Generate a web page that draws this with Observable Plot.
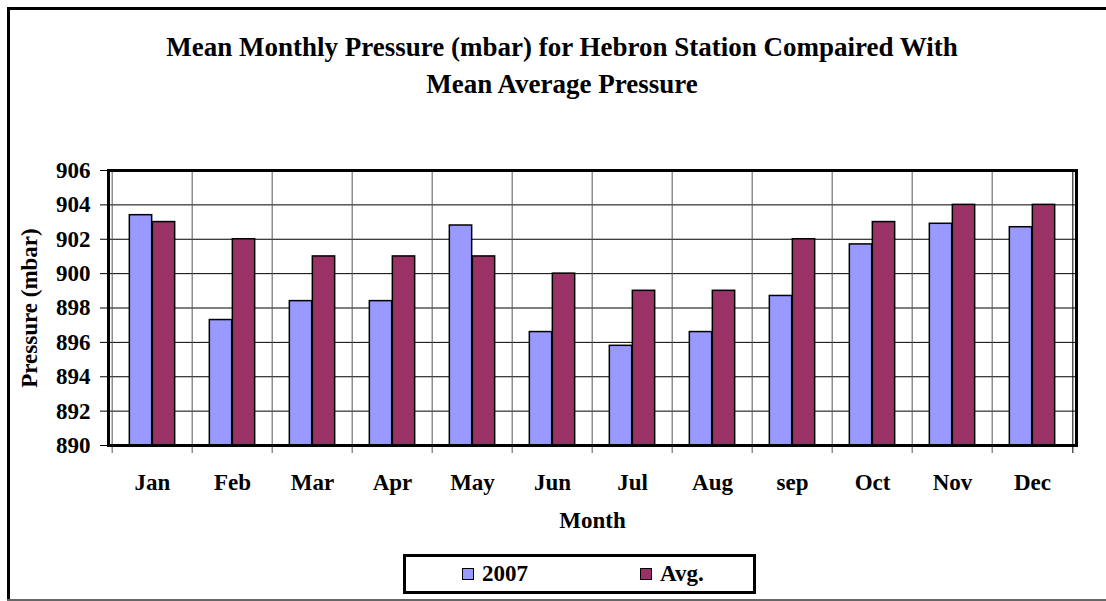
<!DOCTYPE html>
<html><head><meta charset="utf-8">
<script src="https://cdn.jsdelivr.net/npm/d3@7"></script>
<script src="https://cdn.jsdelivr.net/npm/@observablehq/plot@0.6"></script>
<style>
body{margin:0;background:#fff;width:1106px;height:601px;overflow:hidden;position:relative;color:#000;}
#chart{position:absolute;left:0;top:0;}
#overlay{position:absolute;left:0;top:0;}
</style>
</head><body>
<div id="chart"></div>
<svg id="overlay" width="1106" height="601"></svg>
<script>
const months = ["Jan","Feb","Mar","Apr","May","Jun","Jul","Aug","sep","Oct","Nov","Dec"];
const p2007 = [903.4,897.3,898.4,898.4,902.8,896.6,895.8,896.6,898.7,901.7,902.9,902.7];
const pAvg = [903,902,901,901,901,900,899,899,902,903,904,904];
const yTicks = [890,892,894,896,898,900,902,904,906];
const seriesNames = ["2007","Avg."];
const colors = ["#9999FF","#993366"];
const titleLines = ["Mean Monthly Pressure (mbar) for Hebron Station Compaired With", "Mean Average Pressure"];

const FONT = '"Liberation Serif","Times New Roman",Times,serif';
const W = 1106, H = 545, mL = 108, mR = 30, mT = 170, mB = 100;
const bw = (W - mL - mR) / months.length;
const barW = 23;
const outer = (bw - 2 * barW) / 2;

const d2007 = months.map((m, i) => ({month: m, value: p2007[i]}));
const dAvg = months.map((m, i) => ({month: m, value: pAvg[i]}));

const chart = Plot.plot({
  width: W, height: H,
  marginLeft: mL, marginRight: mR, marginTop: mT, marginBottom: mB,
  style: {fontFamily: FONT, fontWeight: "bold", fontSize: "23px", color: "#000", background: "transparent", overflow: "visible"},
  x: {type: "band", domain: months, padding: 0, label: "Month", labelAnchor: "center", labelOffset: 82, tickSize: 0, tickPadding: 28, labelArrow: "none"},
  y: {domain: [890, 906], ticks: yTicks, tickSize: 8, tickPadding: 10, label: "Pressure (mbar)", labelAnchor: "center", labelOffset: 88, labelArrow: "none"},
  marks: [
    Plot.ruleY(yTicks, {stroke: "#000", strokeWidth: 1}),
    Plot.ruleX(months, {x: d => d, dx: -bw / 2, stroke: "#555", strokeWidth: 1, insetBottom: -8}),
    Plot.ruleX([months[months.length - 1]], {x: d => d, dx: bw / 2, stroke: "#000", strokeWidth: 1, insetBottom: -8}),
    Plot.barY(d2007, {x: "month", y1: 890, y2: "value", fill: colors[0], stroke: "#000", strokeWidth: 1.5, insetLeft: outer, insetRight: outer + barW}),
    Plot.barY(dAvg, {x: "month", y1: 890, y2: "value", fill: colors[1], stroke: "#000", strokeWidth: 1.5, insetLeft: outer + barW, insetRight: outer}),
    Plot.frame({stroke: "#000", strokeWidth: 3})
  ]
});
document.getElementById("chart").appendChild(chart);

// chart-area border, title and legend
const ov = d3.select("#overlay")
  .style("font-family", FONT).style("font-weight", "bold");
ov.append("path").attr("d", "M8.5,620 V8.5 H1120").attr("fill", "none").attr("stroke", "#000").attr("stroke-width", 3);
ov.append("line").attr("x1", 7).attr("x2", 1106).attr("y1", 600).attr("y2", 600).attr("stroke", "#666").attr("stroke-width", 2);
ov.selectAll("text.title").data(titleLines).join("text").attr("class", "title")
  .attr("x", 562).attr("y", (d, i) => 56 + i * 37)
  .attr("text-anchor", "middle").attr("font-size", 27).text(d => d);

const lg = ov.append("g");
lg.append("rect").attr("x", 404.5).attr("y", 555.5).attr("width", 350).attr("height", 37)
  .attr("fill", "#fff").attr("stroke", "#000").attr("stroke-width", 3);
const swX = [462, 640], txX = [482, 660];
seriesNames.forEach((s, i) => {
  lg.append("rect").attr("x", swX[i] + 0.5).attr("y", 568.5).attr("width", 11).attr("height", 11)
    .attr("fill", colors[i]).attr("stroke", "#000").attr("stroke-width", 1);
  lg.append("text").attr("x", txX[i]).attr("y", 581).attr("font-size", 23).text(s);
});
</script>
</body></html>
